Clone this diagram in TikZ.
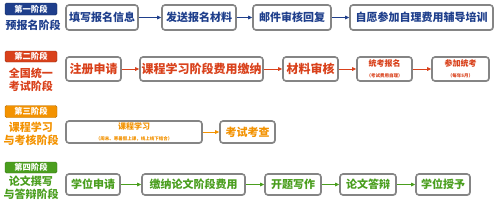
\documentclass[tikz,border=0pt]{standalone}
\usepackage{fontspec}
\setmainfont{Noto Sans CJK SC}
\usetikzlibrary{shadows,arrows.meta}
\definecolor{cblue}{HTML}{1F3F8C}
\definecolor{cred}{HTML}{D9411B}
\definecolor{corange}{HTML}{F39200}
\definecolor{cgreen}{HTML}{4A9E1E}
\definecolor{cframe}{HTML}{858585}
\tikzset{
  stepbox/.style={draw=cframe, line width=1.6pt, fill=white, rounded corners=3pt,
    drop shadow={shadow xshift=0.8pt, shadow yshift=-0.8pt, opacity=0.35},
    inner sep=0pt, font=\bfseries\fontsize{11}{12}\selectfont, align=center},
  stagetag/.style={rounded corners=1.5pt, inner sep=0pt, minimum width=52pt,
    text=white, font=\bfseries\fontsize{8.3}{9}\selectfont},
  stagetitle/.style={font=\bfseries\fontsize{11}{13.5}\selectfont, align=center},
  flow/.style={line width=0.9pt, -{Triangle[length=4pt,width=3.5pt]}},
}
\begin{document}
\begin{tikzpicture}[x=1pt,y=1pt]
\useasboundingbox (0,0) rectangle (500,-207);
% Row 1
\node[stagetag, fill=cblue, draw=cblue!70!black, minimum height=12pt] (s1) at (31,-9) {第一阶段};
\node[stagetitle, text=cblue] (t1) at (33,-25) {预报名阶段};
\begin{scope}[every node/.append style={text=cblue}]
\node[stepbox, minimum width=72pt, minimum height=25pt] (a1) at (102,-17.5) {填写报名信息};
\node[stepbox, minimum width=74pt, minimum height=25pt] (a2) at (199,-17.5) {发送报名材料};
\node[stepbox, minimum width=78pt, minimum height=25pt] (a3) at (292,-17.5) {邮件审核回复};
\node[stepbox, minimum width=143pt, minimum height=25pt] (a4) at (421.5,-17.5) {自愿参加自理费用辅导培训};
\end{scope}
\draw[flow, cblue] (a1) -- (a2);
\draw[flow, cblue] (a2) -- (a3);
\draw[flow, cblue] (a3) -- (a4);
% Row 2
\node[stagetag, fill=cred, draw=cred!70!black, minimum height=11pt] (s2) at (31,-56.5) {第二阶段};
\node[stagetitle, text=cred] (t2) at (31,-80) {全国统一\\考试阶段};
\begin{scope}[every node/.append style={text=cred}]
\node[stepbox, minimum width=55pt, minimum height=24pt, font=\bfseries\fontsize{12}{13}\selectfont] (b1) at (93.5,-69) {注册申请};
\node[stepbox, minimum width=123pt, minimum height=24pt, font=\bfseries\fontsize{12}{13}\selectfont] (b2) at (201.5,-69) {课程学习阶段费用缴纳};
\node[stepbox, minimum width=55pt, minimum height=24pt, font=\bfseries\fontsize{12}{13}\selectfont] (b3) at (310.5,-69) {材料审核};
\node[stepbox, minimum width=55pt, minimum height=24pt] (b4) at (384.5,-69) {{\fontsize{8}{9}\selectfont 统考报名}\\[-1pt]{\fontsize{4.5}{5}\selectfont （考试费用自理）}};
\node[stepbox, minimum width=57pt, minimum height=24pt] (b5) at (460.5,-69) {{\fontsize{8}{9}\selectfont 参加统考}\\[-1pt]{\fontsize{4.5}{5}\selectfont （每年5月）}};
\end{scope}
\draw[flow, cred] (b1) -- (b2);
\draw[flow, cred] (b2) -- (b3);
\draw[flow, cred] (b3) -- (b4);
\draw[flow, cred] (b4) -- (b5);
% Row 3
\node[stagetag, fill=corange, draw=corange!75!black, minimum height=12pt] (s3) at (31,-111.5) {第三阶段};
\node[stagetitle, text=corange] (t3) at (31,-134) {课程学习\\与考核阶段};
\begin{scope}[every node/.append style={text=corange}]
\node[stepbox, minimum width=136pt, minimum height=22pt] (c1) at (134,-132) {{\fontsize{8}{9}\selectfont 课程学习}\\[-1pt]{\fontsize{4.5}{5}\selectfont （周末、寒暑假上课，线上线下结合）}};
\node[stepbox, minimum width=55pt, minimum height=22pt] (c2) at (247.5,-132) {考试考查};
\end{scope}
\draw[flow, corange] (c1) -- (c2);
% Row 4
\node[stagetag, fill=cgreen, draw=cgreen!75!black, minimum height=11pt] (s4) at (31,-167.5) {第四阶段};
\node[stagetitle, text=cgreen] (t4) at (31,-188) {论文撰写\\与答辩阶段};
\begin{scope}[every node/.append style={text=cgreen}]
\node[stepbox, minimum width=54pt, minimum height=21pt] (d1) at (93,-184.5) {学位申请};
\node[stepbox, minimum width=103pt, minimum height=21pt] (d2) at (193.5,-184.5) {缴纳论文阶段费用};
\node[stepbox, minimum width=56pt, minimum height=21pt] (d3) at (293,-184.5) {开题写作};
\node[stepbox, minimum width=56pt, minimum height=21pt] (d4) at (368,-184.5) {论文答辩};
\node[stepbox, minimum width=54pt, minimum height=21pt] (d5) at (443,-184.5) {学位授予};
\end{scope}
\draw[flow, cgreen] (d1) -- (d2);
\draw[flow, cgreen] (d2) -- (d3);
\draw[flow, cgreen] (d3) -- (d4);
\draw[flow, cgreen] (d4) -- (d5);
\end{tikzpicture}
\end{document}
